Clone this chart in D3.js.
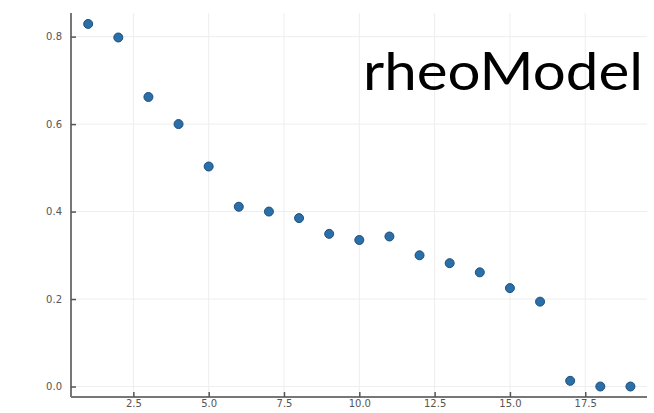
<!DOCTYPE html>
<html>
<head>
<meta charset="utf-8">
<script src="https://cdn.jsdelivr.net/npm/d3@7"></script>
<style>
  html, body { margin: 0; padding: 0; background: #fff; }
  svg { display: block; }
</style>
</head>
<body>
<svg id="chart" width="654" height="413"></svg>
<script>
// Sample index and relaxation value for each point
const indices = [1, 2, 3, 4, 5, 6, 7, 8, 9, 10, 11, 12, 13, 14, 15, 16, 17, 18, 19];
const values = [0.829, 0.798, 0.662, 0.600, 0.503, 0.411, 0.400, 0.385, 0.349, 0.335,
                 0.343, 0.300, 0.282, 0.261, 0.225, 0.194, 0.013, 0.000, 0.000];
const xTicks = [2.5, 5.0, 7.5, 10.0, 12.5, 15.0, 17.5];
const yTicks = [0.0, 0.2, 0.4, 0.6, 0.8];
const title = "rheoModel";

const svg = d3.select("#chart");
const plotLeft = 71, plotRight = 647, plotTop = 13, plotBottom = 397;

const x = d3.scaleLinear().domain([0.43, 19.55]).range([plotLeft, plotRight]);
const y = d3.scaleLinear().domain([-0.024, 0.854]).range([plotBottom, plotTop]);

// grid
const grid = svg.append("g");
grid.selectAll("line.gx").data(xTicks).join("line")
  .attr("x1", d => x(d)).attr("x2", d => x(d))
  .attr("y1", plotTop).attr("y2", plotBottom)
  .attr("stroke", "#eeeeee").attr("stroke-width", 1);
grid.selectAll("line.gy").data(yTicks).join("line")
  .attr("x1", plotLeft).attr("x2", plotRight)
  .attr("y1", d => y(d)).attr("y2", d => y(d))
  .attr("stroke", "#eeeeee").attr("stroke-width", 1);

// axes with inward ticks
const xAxis = d3.axisBottom(x).tickValues(xTicks).tickFormat(d3.format(".1f"))
  .tickSizeInner(-5).tickSizeOuter(0).tickPadding(3);
const yAxis = d3.axisLeft(y).tickValues(yTicks).tickFormat(d3.format(".1f"))
  .tickSizeInner(-5).tickSizeOuter(0).tickPadding(9);

const gx = svg.append("g").attr("transform", `translate(0,${plotBottom})`).call(xAxis);
const gy = svg.append("g").attr("transform", `translate(${plotLeft},0)`).call(yAxis);

[gx, gy].forEach(g => {
  g.select(".domain").attr("stroke", "#777").attr("stroke-width", 2);
  g.selectAll(".tick line").attr("stroke", "#555").attr("stroke-width", 1.5);
  g.selectAll(".tick text").attr("fill", "#555")
    .style("font-family", "'DejaVu Sans', sans-serif").style("font-size", "10px");
});
gy.select(".domain").attr("d", `M0,${plotTop}V${plotBottom}`);
gx.select(".domain").attr("d", `M${plotLeft},0H${plotRight}`);

// points
svg.append("g").selectAll("circle").data(indices).join("circle")
  .attr("cx", d => x(d))
  .attr("cy", (d, i) => y(values[i]))
  .attr("r", 4.5)
  .attr("fill", "#2b6fa8")
  .attr("stroke", "#1d4f7c")
  .attr("stroke-width", 1);

// title label
svg.append("text")
  .attr("x", 363).attr("y", 90)
  .attr("fill", "#000")
  .attr("textLength", 280)
  .attr("lengthAdjust", "spacingAndGlyphs")
  .style("font-family", "Lato, 'Open Sans', sans-serif")
  .style("font-size", "52px")
  .text(title);
</script>
</body>
</html>
